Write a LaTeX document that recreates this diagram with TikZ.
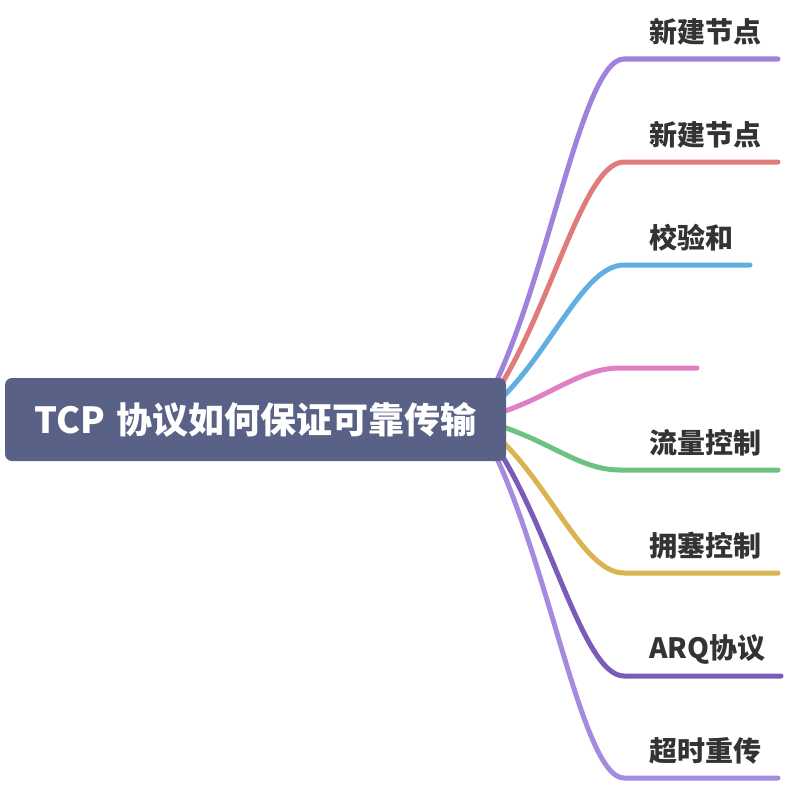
\documentclass[tikz,border=0pt]{standalone}
\usepackage{fontspec}
\newfontfamily\cjk{Noto Sans CJK SC}
\usetikzlibrary{calc,backgrounds}
\definecolor{rootfill}{HTML}{5A6187}
\definecolor{labeltext}{HTML}{333333}
\definecolor{cA}{HTML}{A082DC}
\definecolor{cB}{HTML}{E07B7B}
\definecolor{cC}{HTML}{62AEE0}
\definecolor{cD}{HTML}{E07FC6}
\definecolor{cE}{HTML}{6CC183}
\definecolor{cF}{HTML}{D9B450}
\definecolor{cG}{HTML}{7A5CB8}
\definecolor{cH}{HTML}{A58BE0}
\tikzset{
  rootbox/.style={fill=rootfill, rounded corners=7pt, minimum width=501pt, minimum height=83pt,
    inner sep=0pt, text=white, font=\cjk\bfseries\fontsize{36}{42}\selectfont},
  leaflabel/.style={anchor=west, inner sep=0pt, text=labeltext, font=\cjk\bfseries\fontsize{28}{33}\selectfont},
  branch/.style={line width=5pt, line cap=round}
}
\newcommand{\branchline}[4]{% color, curve end, line end, dy
  \draw[branch,#1] (S) .. controls ($(S)+(68,{0.3*(#4)})$) and ($(#2)+(-45,0)$) .. (#2) -- (#3);
}
\begin{document}
\begin{tikzpicture}[x=1pt,y=-1pt]
\useasboundingbox (0,0) rectangle (786,784);
\node[rootbox] (root) at (255.5,419.5) {TCP\kern0.1em\ 协议如何保证可靠传输};
\coordinate (S) at ($(root.east)+(-30,0)$);
% horizontal segment start and end points
\coordinate (e1) at (624,59);  \coordinate (f1) at (778,59);
\coordinate (e2) at (624,162); \coordinate (f2) at (778,162);
\coordinate (e3) at (624,265); \coordinate (f3) at (750,265);
\coordinate (e4) at (620,368); \coordinate (f4) at (697,368);
\coordinate (e5) at (620,470); \coordinate (f5) at (778,470);
\coordinate (e6) at (624,573); \coordinate (f6) at (778,573);
\coordinate (e7) at (624,676); \coordinate (f7) at (781,676);
\coordinate (e8) at (624,778); \coordinate (f8) at (778,778);
\begin{scope}[on background layer]
\branchline{cA}{e1}{f1}{-361}
\branchline{cB}{e2}{f2}{-258}
\branchline{cC}{e3}{f3}{-155}
\branchline{cD}{e4}{f4}{-52}
\branchline{cE}{e5}{f5}{50}
\branchline{cF}{e6}{f6}{153}
\branchline{cG}{e7}{f7}{256}
\branchline{cH}{e8}{f8}{358}
\end{scope}
\node[leaflabel] (l1) at (649,32) {新建节点};
\node[leaflabel] (l2) at (649,135) {新建节点};
\node[leaflabel] (l3) at (649,238) {校验和};
\node[leaflabel] (l5) at (649,443) {流量控制};
\node[leaflabel] (l6) at (649,546) {拥塞控制};
\node[leaflabel] (l7) at (649,649) {ARQ协议};
\node[leaflabel] (l8) at (649,751) {超时重传};
\end{tikzpicture}
\end{document}
